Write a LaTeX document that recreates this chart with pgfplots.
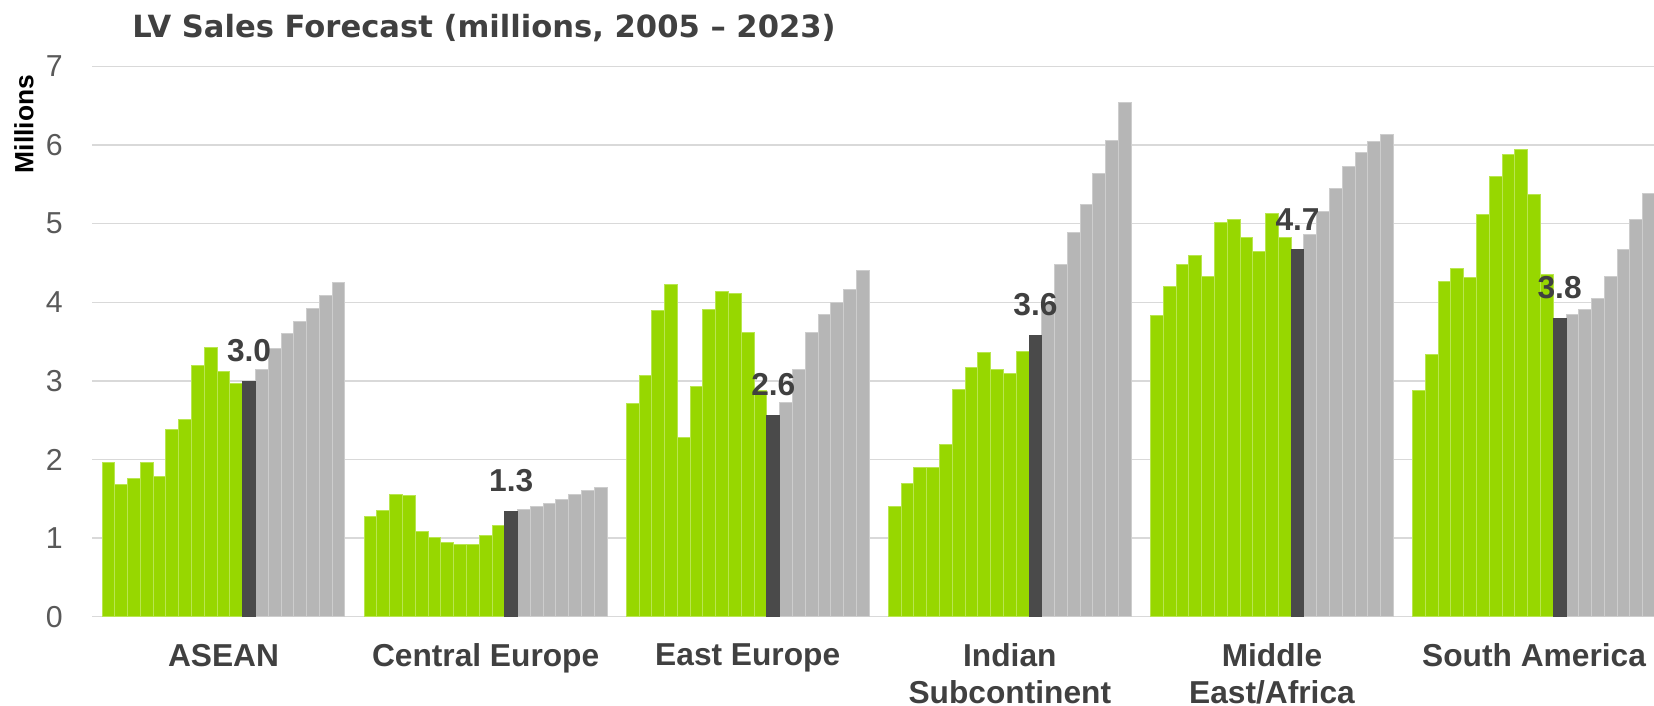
\documentclass[border=0pt]{standalone}
\usepackage{fontspec}
\setmainfont{Liberation Sans}
\newfontfamily\titlefont{DejaVu Sans}
\usepackage{pgfplots}
\pgfplotsset{compat=1.18}
\definecolor{cgreen}{RGB}{151,215,0}
\definecolor{cgreenedge}{RGB}{185,230,80}
\definecolor{cdark}{RGB}{74,74,74}
\definecolor{cgray}{RGB}{182,182,182}
\definecolor{cgrayedge}{RGB}{205,205,205}
\definecolor{cgrid}{RGB}{217,217,217}
\definecolor{ctext}{RGB}{64,64,64}
\definecolor{ctick}{RGB}{89,89,89}
\begin{document}
\begin{tikzpicture}
\begin{axis}[
  at={(0,0)}, anchor=south west,
  scale only axis, width=780.78pt, height=275.1pt,
  xmin=-1.25, xmax=120.88, ymin=0, ymax=7,
  axis x line*=bottom, axis y line*=left,
  axis line style={draw=none},
  ymajorgrids, grid style={cgrid, line width=0.7pt},
  ytick={0,1,2,3,4,5,6,7},
  major tick length=0pt,
  xtick={9,29.5,50,70.5,91,111.5},
  xticklabels={ASEAN, Central Europe, East Europe, Indian\\Subcontinent, Middle\\East/Africa, South America},
  xticklabel style={align=center, font=\fontsize{15.85}{18.1}\selectfont\bfseries, text=ctext, inner sep=0pt, anchor=north, yshift=-13.4pt},
  yticklabel style={font=\fontsize{15.15}{18}\selectfont, text=ctick, inner sep=0pt, anchor=east, xshift=-14.6pt},
  /pgf/number format/assume math mode=true,
  ylabel={Millions},
  ylabel style={at={(axis description cs:-0.0379,0.8955)}, anchor=base, font=\fontsize{13.2}{15}\selectfont\bfseries, text=black, inner sep=0pt},
  title={LV Sales Forecast (millions, 2005 – 2023)},
  every axis title/.style={at={(axis description cs:0.0253,1.0536)}, anchor=base west, font=\titlefont\fontsize{15.3}{18}\selectfont\bfseries, text=ctext, inner sep=0pt},
]
% green: 2005-2015
\addplot[ybar, bar width=1, bar shift=0pt, fill=cgreen, draw=cgreenedge, line width=0.5pt] coordinates {
 (0,1.96) (1,1.68) (2,1.76) (3,1.96) (4,1.79) (5,2.38) (6,2.51) (7,3.19) (8,3.42) (9,3.12) (10,2.97)
 (20.5,1.27) (21.5,1.35) (22.5,1.56) (23.5,1.54) (24.5,1.08) (25.5,1.01) (26.5,0.95) (27.5,0.92) (28.5,0.92) (29.5,1.03) (30.5,1.16)
 (41,2.71) (42,3.07) (43,3.89) (44,4.23) (45,2.28) (46,2.93) (47,3.91) (48,4.14) (49,4.11) (50,3.62) (51,2.88)
 (61.5,1.40) (62.5,1.69) (63.5,1.90) (64.5,1.90) (65.5,2.19) (66.5,2.89) (67.5,3.17) (68.5,3.36) (69.5,3.14) (70.5,3.09) (71.5,3.37)
 (82,3.83) (83,4.20) (84,4.48) (85,4.60) (86,4.33) (87,5.01) (88,5.05) (89,4.82) (90,4.65) (91,5.13) (92,4.83)
 (102.5,2.88) (103.5,3.33) (104.5,4.27) (105.5,4.43) (106.5,4.32) (107.5,5.12) (108.5,5.60) (109.5,5.88) (110.5,5.95) (111.5,5.37) (112.5,4.36)
};
% gray: 2017-2023
\addplot[ybar, bar width=1, bar shift=0pt, fill=cgray, draw=cgrayedge, line width=0.5pt] coordinates {
 (12,3.15) (13,3.41) (14,3.60) (15,3.76) (16,3.92) (17,4.09) (18,4.25)
 (32.5,1.37) (33.5,1.40) (34.5,1.44) (35.5,1.49) (36.5,1.55) (37.5,1.60) (38.5,1.65)
 (53,2.72) (54,3.15) (55,3.62) (56,3.85) (57,4.00) (58,4.16) (59,4.40)
 (73.5,4.00) (74.5,4.48) (75.5,4.89) (76.5,5.25) (77.5,5.64) (78.5,6.06) (79.5,6.54)
 (94,4.86) (95,5.16) (96,5.45) (97,5.73) (98,5.91) (99,6.04) (100,6.13)
 (114.5,3.84) (115.5,3.91) (116.5,4.05) (117.5,4.33) (118.5,4.67) (119.5,5.05) (120.5,5.39)
};
% dark: 2016
\addplot[ybar, bar width=1, bar shift=0pt, fill=cdark, draw=cdark, line width=0.5pt,
  point meta=explicit symbolic, nodes near coords,
  nodes near coords style={font=\fontsize{15.85}{18}\selectfont\bfseries, text=ctext, inner sep=0pt, anchor=south, yshift=9.5pt}]
 coordinates {(11,2.99) [3.0] (31.5,1.34) [1.3] (52,2.56) [2.6] (72.5,3.58) [3.6] (93,4.67) [4.7] (113.5,3.80) [3.8]};
\end{axis}
\pgfresetboundingbox
\path[use as bounding box] (-46.22pt,-44.65pt) rectangle (780.78pt,308.35pt);
\end{tikzpicture}
\end{document}
